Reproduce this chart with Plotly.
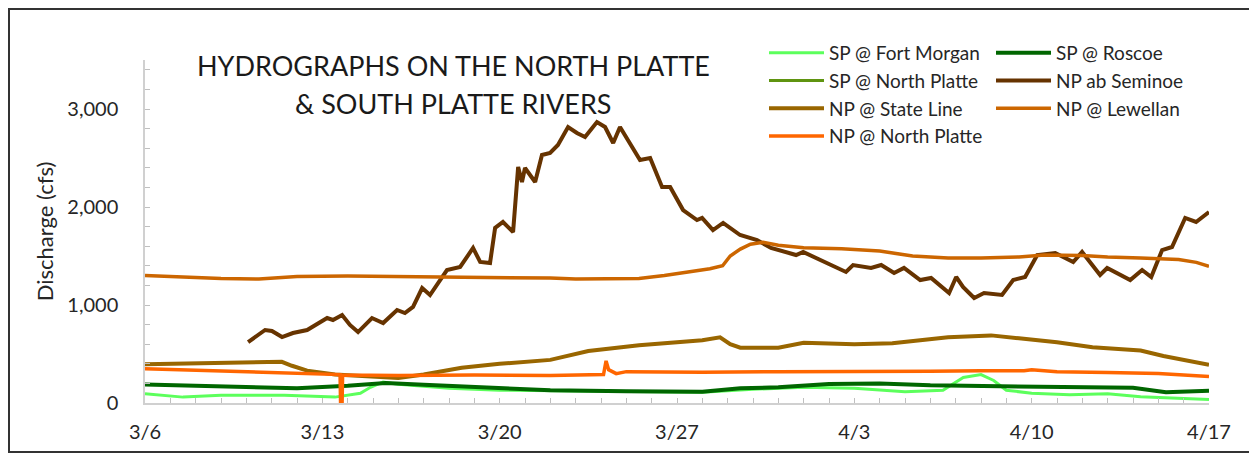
import pandas as pd
import plotly.graph_objects as go

BASE = pd.Timestamp("2019-03-06")

# ---- data (days after 3/6 00:00, discharge cfs) ----
fort_morgan_days = [0, 1.5, 3, 5.5, 7.5, 8.5, 8.9, 9.4, 10, 12, 14, 17, 20, 22, 24, 26, 28, 30, 31.5, 32.3, 33, 33.5, 34, 35, 36.5, 38, 39.3, 40.8, 42]
fort_morgan_cfs = [95, 60, 80, 80, 60, 100, 160, 215, 190, 150, 130, 120, 115, 110, 140, 160, 150, 115, 130, 260, 290, 230, 130, 100, 85, 95, 65, 50, 35]

roscoe_days = [0, 2, 4, 6, 8, 9.5, 11, 13, 16, 19, 22, 23.5, 25, 27, 29, 31, 33, 35, 37, 39, 40.3, 41, 42]
roscoe_cfs = [190, 175, 165, 150, 175, 205, 185, 160, 130, 120, 115, 150, 160, 195, 200, 180, 175, 165, 165, 155, 110, 120, 125]

# not visible in the picture (hidden / no readable values)
sp_north_platte_days = [0]
sp_north_platte_cfs = [None]

seminoe_days = [4.07, 4.74, 5.01, 5.41, 5.84, 6.40, 7.19, 7.42, 7.78, 8.09, 8.41, 8.96, 9.40, 9.95, 10.26, 10.58,
                10.94, 11.25, 11.65, 11.92, 12.44, 12.95, 13.23, 13.62, 13.82, 14.13, 14.53, 14.73, 14.88, 15.00,
                15.40, 15.67, 15.99, 16.30, 16.70, 17.05, 17.37, 17.84, 18.16, 18.48, 18.75, 19.07, 19.54, 19.94,
                20.41, 20.73, 21.24, 21.79, 21.99, 22.42, 22.82, 23.49, 24.16, 24.71, 25.70, 25.98, 26.96, 27.67,
                27.95, 28.66, 29.06, 29.57, 29.96, 30.60, 31.03, 31.74, 32.02, 32.29, 32.73, 33.12, 33.83, 34.27,
                34.74, 35.22, 35.93, 36.64, 36.99, 37.70, 37.98, 38.89, 39.36, 39.72, 40.15, 40.54, 41.06, 41.49, 42.0]
seminoe_cfs = [622, 745, 735, 673, 714, 745, 867, 847, 898, 796, 724, 867, 816, 949, 918, 980,
               1173, 1102, 1255, 1357, 1388, 1582, 1439, 1429, 1786, 1847, 1745, 2408, 2255, 2398,
               2255, 2531, 2551, 2633, 2816, 2755, 2714, 2867, 2816, 2653, 2816, 2684, 2480, 2500,
               2204, 2204, 1969, 1867, 1888, 1765, 1837, 1714, 1663, 1582, 1510, 1541, 1429, 1337,
               1408, 1378, 1408, 1327, 1378, 1255, 1276, 1122, 1286, 1184, 1071, 1122, 1102, 1255,
               1286, 1510, 1531, 1439, 1541, 1306, 1378, 1255, 1357, 1286, 1561, 1592, 1888, 1847, 1949]

state_line_days = [0, 3, 5, 5.4, 5.8, 6.4, 7.5, 9, 10, 11, 12.5, 14, 16, 17.5, 19.5, 22, 22.7, 23.1, 23.5, 25, 26, 28, 29.5, 31.7, 33.4, 34.5, 36, 37.4, 39.3, 40.2, 42]
state_line_cfs = [395, 405, 415, 420, 380, 330, 290, 265, 255, 290, 360, 400, 440, 530, 590, 640, 670, 600, 565, 565, 615, 600, 610, 670, 690, 660, 620, 570, 535, 480, 390]

lewellan_days = [0, 1.5, 3, 4.5, 6, 8, 10, 12, 14, 16, 17, 18, 19.5, 20.5, 21.5, 22.3, 22.8, 23.1, 23.5, 23.9, 24.4, 25, 26, 27.5, 29, 30.3, 31.7, 33, 34.5, 35.5, 37, 38, 39.3, 40.8, 41.5, 42]
lewellan_cfs = [1300, 1285, 1270, 1265, 1290, 1295, 1290, 1285, 1285, 1275, 1265, 1265, 1270, 1300, 1340, 1370, 1400, 1500, 1570, 1620, 1640, 1610, 1585, 1575, 1550, 1500, 1480, 1480, 1490, 1510, 1505, 1490, 1480, 1465, 1435, 1395]

np_north_platte_days = [0, 2, 4, 5.5, 7.7, 7.72, 7.78, 7.8, 10, 13, 16, 18.1, 18.2, 18.3, 18.6, 19, 22, 25, 28, 31, 33, 34.7, 35, 36, 38, 40, 41, 42]
np_north_platte_cfs = [350, 335, 315, 300, 290, 0, 0, 285, 280, 285, 280, 290, 430, 340, 300, 320, 315, 320, 320, 325, 330, 330, 340, 320, 310, 300, 285, 270]

x_tick_labels = ["3/6", "3/13", "3/20", "3/27", "4/3", "4/10", "4/17"]

# name, days, cfs, colour, width, legend column
series = [
    ("SP @ Fort Morgan", fort_morgan_days, fort_morgan_cfs, "#5CFF5C", 3, "legend"),
    ("SP @ Roscoe", roscoe_days, roscoe_cfs, "#006600", 4, "legend2"),
    ("SP @ North Platte", sp_north_platte_days, sp_north_platte_cfs, "#5F9410", 3, "legend"),
    ("NP ab Seminoe", seminoe_days, seminoe_cfs, "#663300", 4, "legend2"),
    ("NP @ State Line", state_line_days, state_line_cfs, "#996600", 4, "legend"),
    ("NP @ Lewellan", lewellan_days, lewellan_cfs, "#CC6600", 3.5, "legend2"),
    ("NP @ North Platte", np_north_platte_days, np_north_platte_cfs, "#FF6600", 3.5, "legend"),
]

FONT = "Lato"
TXT = "#262626"
fig = go.Figure()
for name, d, v, col, w, lg in series:
    x = [BASE + pd.to_timedelta(t, unit="D") for t in d]
    fig.add_trace(go.Scatter(x=x, y=v, name=name, mode="lines", legend=lg,
                             line=dict(color=col, width=w)))

tickvals = [BASE + pd.Timedelta(days=7 * i) for i in range(len(x_tick_labels))]

# page body has an 8px margin: figure coords = reference coords - 8
W, H = 1249, 446
L, R, T, B = 137, 48, 52, 51
pw, ph = W - L - R, H - T - B

def px(xp):
    return (xp - 8 - L) / pw

def py(yp):
    return (H - B - (yp - 8)) / ph

legend_common = dict(orientation="v", xanchor="left", yanchor="top",
                     font=dict(family=FONT, size=19, color=TXT),
                     bgcolor="rgba(0,0,0,0)", itemwidth=55, traceorder="normal",
                     tracegroupgap=0)

fig.update_layout(
    width=W, height=H,
    margin=dict(l=L, r=R, t=T, b=B),
    paper_bgcolor="white", plot_bgcolor="white",
    font=dict(family=FONT, size=16, color=TXT),
    showlegend=True,
    legend=dict(x=px(764), y=py(34), **legend_common),
    legend2=dict(x=px(991), y=py(34), **legend_common),
    xaxis=dict(type="date", range=[BASE, BASE + pd.Timedelta(days=42)],
               tickvals=tickvals, ticktext=x_tick_labels,
               ticks="inside", ticklen=5, tickcolor="#bfbfbf",
               showline=True, linecolor="#d0d0d0", linewidth=1.5,
               showgrid=False, zeroline=False,
               tickfont=dict(family=FONT, size=20, color=TXT),
               ticklabelstandoff=10,
               minor=dict(dtick=86400000, ticks="inside", ticklen=5, tickcolor="#bfbfbf")),
    yaxis=dict(range=[0, 3500], dtick=1000, tickformat=",d",
               ticks="inside", ticklen=5, tickcolor="#bfbfbf",
               showline=True, linecolor="#d0d0d0", linewidth=1.5,
               showgrid=False, zeroline=False,
               tickfont=dict(family=FONT, size=20, color=TXT),
               ticklabelstandoff=21,
               minor=dict(dtick=200, ticks="inside", ticklen=5, tickcolor="#bfbfbf"),
               title=dict(text="Discharge (cfs)", font=dict(family=FONT, size=22, color=TXT),
                          standoff=8)),
    annotations=[
        dict(text="HYDROGRAPHS ON THE NORTH PLATTE",
             xref="paper", yref="paper", x=px(453), y=py(65), xanchor="center", yanchor="middle",
             showarrow=False, font=dict(family=FONT, size=27, color="#1a1a1a")),
        dict(text="&amp; SOUTH PLATTE RIVERS",
             xref="paper", yref="paper", x=px(453), y=py(103), xanchor="center", yanchor="middle",
             showarrow=False, font=dict(family=FONT, size=27, color="#1a1a1a")),
    ],
    shapes=[
        dict(type="rect", xref="paper", yref="paper",
             x0=px(9), x1=px(1252), y0=py(452), y1=py(9),
             line=dict(color="#333333", width=2), fillcolor="rgba(0,0,0,0)", layer="below"),
    ],
)

fig.write_html("out.html")
